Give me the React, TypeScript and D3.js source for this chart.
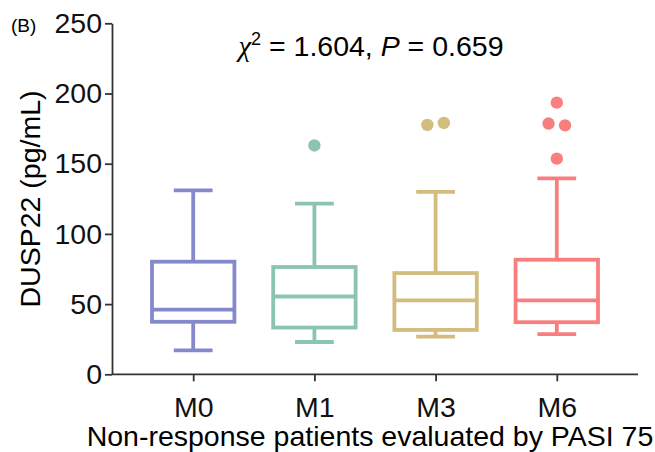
import React, { useEffect, useRef } from 'react'
import * as d3 from 'd3'

// box plot summaries (pg/mL)
const groups = ['M0', 'M1', 'M3', 'M6']
const lows = [17.1, 23, 26.9, 28.6]
const q1s = [37.4, 33.3, 31.6, 37.1]
const medians = [46, 55.4, 52.6, 52.6]
const q3s = [80.2, 76.4, 72.1, 81.6]
const highs = [131, 121.6, 130, 139.5]
const outliers = [[], [163], [177.6, 179], [193.5, 178.6, 177.3, 153.6]]
const colors = ['#8489CC', '#8CC4B4', '#D2BC7E', '#F97F7F']
const yTicks = [0, 50, 100, 150, 200, 250]

const FONT = '"Liberation Sans", Arial, sans-serif'

// spread outliers that sit at nearly the same value side by side
const spread = (vals: number[], gap: number) => {
  const used = vals.map(() => false)
  const res: { v: number; dx: number }[] = []
  vals.forEach((v, i) => {
    if (used[i]) return
    const grp = [i]
    used[i] = true
    vals.forEach((w, j) => {
      if (!used[j] && Math.abs(w - v) < 4) {
        grp.push(j)
        used[j] = true
      }
    })
    grp.forEach((k, n) => res.push({ v: vals[k], dx: (n - (grp.length - 1) / 2) * gap }))
  })
  return res
}

const BoxChart = () => {
  const ref = useRef<SVGSVGElement>(null)

  useEffect(() => {
    if (!ref.current) return
    const svg = d3.select(ref.current)
    svg.selectAll('*').remove()

    const left = 112
    const right = 638
    const top = 23.3
    const bottom = 374.3

    const x = d3.scalePoint().domain(groups).range([left, right]).padding(0.67)
    const y = d3.scaleLinear().domain([0, 250]).range([bottom, top])

    const boxW = x.step() * 0.68
    const capW = x.step() * 0.32

    // axes
    const yAxis = svg
      .append('g')
      .attr('transform', `translate(${left},0)`)
      .call(d3.axisLeft(y).tickValues(yTicks).tickSize(7).tickPadding(3).tickSizeOuter(0))
    const xAxis = svg
      .append('g')
      .attr('transform', `translate(0,${bottom})`)
      .call(d3.axisBottom(x).tickSize(7).tickPadding(15).tickSizeOuter(0))
    xAxis.select('.domain').attr('d', `M${left},0H${right}`)
    ;[yAxis, xAxis].forEach((a) => {
      a.selectAll('path,line').attr('stroke', '#333').attr('stroke-width', 1.8)
      a.selectAll('text')
        .attr('fill', '#111')
        .style('font-family', FONT)
        .style('font-size', '28.5px')
    })

    // boxes
    const g = svg.append('g').attr('fill', 'none').attr('stroke-width', 3.8)
    groups.forEach((k, i) => {
      const cx = x(k) as number
      const c = colors[i]
      const b = g.append('g').attr('stroke', c)
      b.append('line').attr('x1', cx).attr('x2', cx).attr('y1', y(highs[i])).attr('y2', y(q3s[i]))
      b.append('line').attr('x1', cx).attr('x2', cx).attr('y1', y(q1s[i])).attr('y2', y(lows[i]))
      b.append('line')
        .attr('x1', cx - capW / 2).attr('x2', cx + capW / 2)
        .attr('y1', y(highs[i])).attr('y2', y(highs[i]))
      b.append('line')
        .attr('x1', cx - capW / 2).attr('x2', cx + capW / 2)
        .attr('y1', y(lows[i])).attr('y2', y(lows[i]))
      b.append('rect')
        .attr('x', cx - boxW / 2)
        .attr('y', y(q3s[i]))
        .attr('width', boxW)
        .attr('height', y(q1s[i]) - y(q3s[i]))
      b.append('line')
        .attr('x1', cx - boxW / 2).attr('x2', cx + boxW / 2)
        .attr('y1', y(medians[i])).attr('y2', y(medians[i]))
      svg
        .append('g')
        .selectAll('circle')
        .data(spread(outliers[i], 16.5))
        .enter()
        .append('circle')
        .attr('cx', (d) => cx + d.dx)
        .attr('cy', (d) => y(d.v))
        .attr('r', 6.2)
        .attr('fill', c)
    })

    // labels
    svg.append('text')
      .attr('x', 11).attr('y', 32)
      .style('font-family', FONT).style('font-size', '19px')
      .text('(B)')

    svg.append('text')
      .attr('transform', `translate(40,199) rotate(-90)`)
      .attr('text-anchor', 'middle')
      .style('font-family', FONT).style('font-size', '28.5px')
      .text('DUSP22 (pg/mL)')

    svg.append('text')
      .attr('x', 370).attr('y', 446)
      .attr('text-anchor', 'middle')
      .style('font-family', FONT).style('font-size', '28.5px')
      .text('Non-response patients evaluated by PASI 75')

    const t = svg.append('text')
      .attr('x', 371).attr('y', 56)
      .attr('text-anchor', 'middle')
      .style('font-family', FONT).style('font-size', '28.5px')
    t.append('tspan').style('font-family', '"Liberation Serif", serif').style('font-style', 'italic').text('χ')
    t.append('tspan').attr('dy', -11).style('font-size', '18px').text('2')
    t.append('tspan').attr('dy', 11).text(' = 1.604, ')
    t.append('tspan').style('font-style', 'italic').text('P')
    t.append('tspan').text(' = 0.659')
  }, [])

  return <svg ref={ref} width={655} height={452} style={{ position: 'absolute', left: 0, top: 0, background: '#fff' }} />
}

export default function App() {
  return <BoxChart />
}
